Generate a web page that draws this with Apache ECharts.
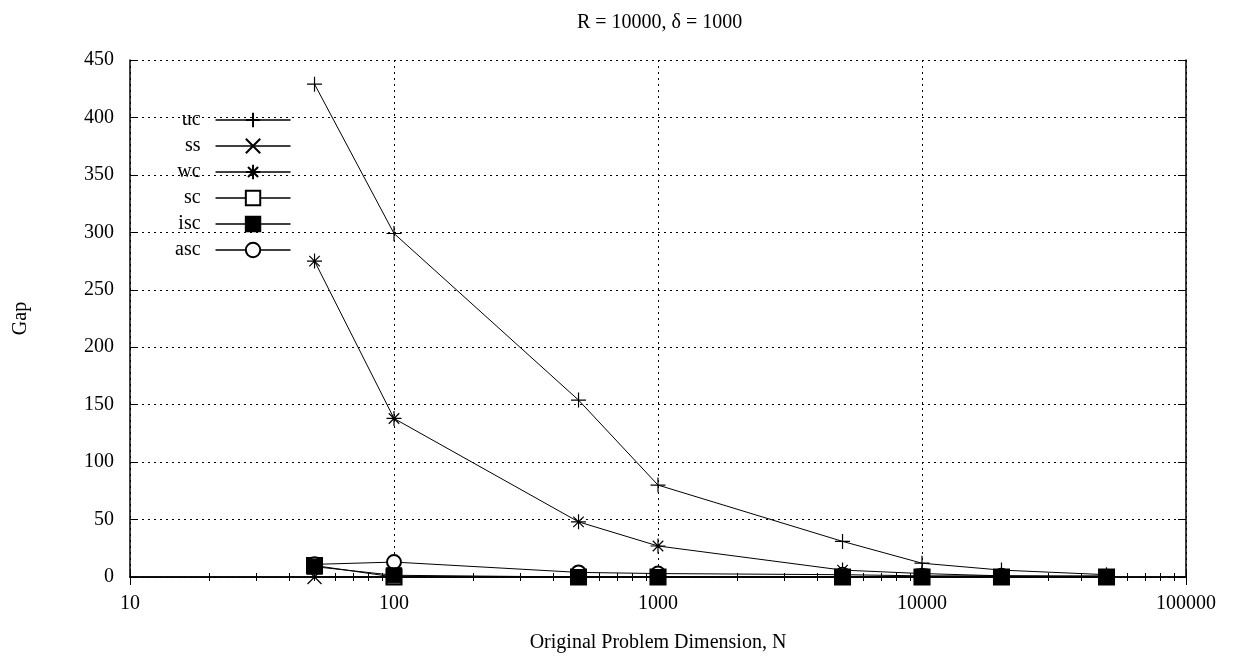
<!DOCTYPE html>
<html>
<head>
<meta charset="utf-8">
<script src="https://cdn.jsdelivr.net/npm/echarts@6/dist/echarts.min.js"></script>
<style>
html, body { margin: 0; padding: 0; background: #fff; }
#chart { width: 1240px; height: 658px; }
</style>
</head>
<body>
<div id="chart"></div>
<script>
// problem dimension N (x) and the gap for each relaxation
var dims = [50, 100, 500, 1000, 5000, 10000, 20000, 50000];
var uc  = [429, 299, 154, 80, 31, 12, 6, 2];
var ss  = [0, 0, 0, 0, 0, 0, 0, 0];
var wc  = [275, 138, 48, 27, 6, 3, 1, 1];
var sc  = [10, 0, 0, 0, 0, 0, 0, 0];
var isc = [9, 1.5, 0, 0, 0, 0, 0, 0];
var asc = [11, 13, 4, 3, 2, 1, 1, 0];
var names = ['uc', 'ss', 'wc', 'sc', 'isc', 'asc'];

var font = 'Liberation Serif';

function pairs(vals) {
    var out = [];
    for (var i = 0; i < dims.length; i++) {
        out.push([dims[i], vals[i]]);
    }
    return out;
}

function mkSeries(name, vals, symbol, size, z) {
    return {
        name: name,
        type: 'line',
        z: z,
        data: pairs(vals),
        symbol: symbol,
        symbolSize: size,
        showAllSymbol: true,
        animation: false,
        lineStyle: { color: '#000', width: 1 },
        itemStyle: { color: '#000', borderColor: '#000', borderWidth: 1.2 }
    };
}

var plus = 'path://M0,5L10,5M5,0L5,10';
var cross = 'path://M0,0L10,10M10,0L0,10';
var star = 'path://M0,5L10,5M5,0L5,10M1.5,1.5L8.5,8.5M8.5,1.5L1.5,8.5';

var myChart = echarts.init(document.getElementById('chart'));
myChart.setOption({
    backgroundColor: '#fff',
    animation: false,
    title: {
        text: 'R = 10000, \u03b4 = 1000',
        left: 572,
        top: 8,
        textStyle: { fontFamily: font, fontSize: 20, fontWeight: 'normal', color: '#000' }
    },
    legend: {
        data: names,
        orient: 'vertical',
        align: 'right',
        left: 170,
        top: 105,
        itemWidth: 75,
        itemHeight: 18,
        itemGap: 6,
        lineStyle: { color: '#000', width: 1.5, type: 'solid' },
        textStyle: { fontFamily: font, fontSize: 20, color: '#000', padding: [0, 10, 0, 0] }
    },
    grid: {
        left: 130,
        right: 54,
        top: 60,
        bottom: 81,
        containLabel: false,
        outerBoundsMode: 'none'
    },
    xAxis: [{
        type: 'log',
        logBase: 10,
        min: 10,
        max: 100000,
        name: 'Original Problem Dimension, N',
        nameLocation: 'middle',
        nameGap: 56,
        nameTextStyle: { fontFamily: font, fontSize: 20, color: '#000' },
        axisLine: { lineStyle: { color: '#000', width: 1.5 } },
        axisTick: { inside: true, length: 8, lineStyle: { color: '#000' } },
        minorTick: { show: true, splitNumber: 9, length: 4, lineStyle: { color: '#000' } },
        axisLabel: {
            fontFamily: font, fontSize: 20, color: '#000', margin: 17,
            formatter: function (v) { return String(v); }
        },
        splitLine: { show: true, lineStyle: { color: '#000', type: [2, 4], width: 1 } }
    }, {
        type: 'log',
        logBase: 10,
        min: 10,
        max: 100000,
        position: 'top',
        axisLine: { lineStyle: { color: '#000', width: 1.5 } },
        axisTick: { inside: true, length: 8, lineStyle: { color: '#000' } },
        minorTick: { show: true, splitNumber: 9, length: 4, lineStyle: { color: '#000' } },
        axisLabel: { show: false },
        splitLine: { show: false }
    }],
    yAxis: [{
        type: 'value',
        min: 0,
        max: 450,
        interval: 50,
        name: 'Gap',
        nameLocation: 'middle',
        nameGap: 99,
        nameTextStyle: { fontFamily: font, fontSize: 20, color: '#000' },
        axisLine: { show: true, lineStyle: { color: '#000', width: 1.5 } },
        axisTick: { show: true, inside: true, length: 8, lineStyle: { color: '#000' } },
        axisLabel: { fontFamily: font, fontSize: 20, color: '#000', margin: 16 },
        splitLine: { show: true, lineStyle: { color: '#000', type: [2, 4], width: 1 } }
    }, {
        type: 'value',
        min: 0,
        max: 450,
        interval: 50,
        position: 'right',
        axisLine: { show: true, lineStyle: { color: '#000', width: 1.5 } },
        axisTick: { show: true, inside: true, length: 8, lineStyle: { color: '#000' } },
        axisLabel: { show: false },
        splitLine: { show: false }
    }],
    series: [
        mkSeries('uc', uc, plus, 15, 2),
        mkSeries('ss', ss, cross, 14, 2),
        mkSeries('wc', wc, star, 15, 2),
        mkSeries('sc', sc, 'emptyRect', 15, 2),
        mkSeries('isc', isc, 'rect', 15, 4),
        mkSeries('asc', asc, 'emptyCircle', 14, 3)
    ]
});
</script>
</body>
</html>
